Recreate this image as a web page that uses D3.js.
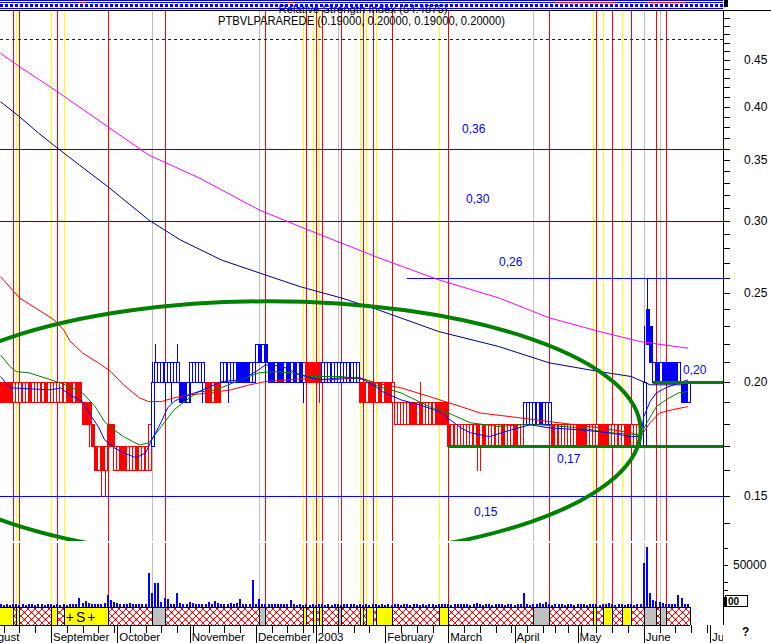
<!DOCTYPE html>
<html>
<head>
<meta charset="utf-8">
<script src="https://cdn.jsdelivr.net/npm/d3@7/dist/d3.min.js"></script>
<style>
  html, body { margin:0; padding:0; background:#ffffff; overflow:hidden; }
  svg { display:block; }
  text { font-family: "Liberation Sans", Arial, sans-serif; }
</style>
</head>
<body>
<svg id="chart" width="771" height="643"></svg>
<script>
// ================= DATA =================
const calendarStart = "2002-08-01";
const calendarEnd   = "2003-07-31";
const holidays = ["2002-12-25","2002-12-26","2002-12-31","2003-01-01","2003-04-18","2003-04-21","2003-05-01"];
const firstBarDate = "2002-08-09";

// daily prices in euro cents (one value per session from firstBarDate)
const openC = [
 20,20,20,20,19,19,19,19,19,20, 19,19,19,19,20,19,19,19,19,19,
 19,20,20,19,20,20,19,19,19,18, 17,16,17,16,18,18,16,16,17,17,
 16,16,16,17,16,16,16,16,17,20, 20,20,20,20,20,20,20,20,20,19,
 20,20,20,20,20,20,20,19,20,20, 20,20,20,20,20,21,21,21,21,20,
 20,21,22,21,22,21,21,20,21,21, 20,21,20,21,20,21,20,21,21,21,
 21,21,20,20,20,20,20,20,20,20, 20,20,20,20,20,20,19,20,20,19,
 20,19,20,20,19,18,18,18,18,18, 19,19,18,19,18,18,18,18,19,19,
 19,19,18,17,17,17,17,17,17,17, 17,18,17,18,17,17,17,17,17,18,
 17,17,17,18,17,17,18,18,18,18, 18,19,18,18,18,18,17,17,17,17,
 17,17,17,18,18,18,17,17,17,17, 18,18,18,17,17,17,17,17,18,18,
 17,17,17,17,17,24,23,20,21,20, 21,21,21,21,21,20,20,20,19];
const highC = [
 20,20,20,20,20,20,20,20,20,20, 20,20,20,20,20,20,20,20,20,20,
 20,20,20,20,20,20,19,19,19,18, 17,17,17,17,18,18,18,17,17,17,
 17,17,17,17,17,17,17,18,21,22, 21,21,21,21,21,21,22,20,20,20,
 21,21,21,21,21,20,20,20,20,20, 21,21,21,21,21,21,21,21,21,21,
 21,22,22,22,22,21,21,21,21,21, 21,21,21,21,21,21,21,21,21,21,
 21,21,21,21,21,21,21,21,21,21, 21,21,21,21,20,20,20,20,20,20,
 20,20,20,20,20,19,19,19,19,19, 19,19,19,20,19,19,19,19,19,19,
 19,19,18,18,18,18,18,18,18,18, 18,18,18,18,18,18,18,18,18,18,
 18,18,18,18,18,18,19,19,19,19, 19,19,19,19,19,18,18,18,18,18,
 18,18,18,18,18,18,18,18,18,18, 18,18,18,18,18,18,18,18,18,18,
 18,18,18,18,23,26,23,21,21,21, 21,21,21,21,21,21,20,20,20];
const lowC = [
 19,19,19,19,19,19,19,19,19,19, 19,19,19,19,19,19,19,19,19,19,
 19,19,19,19,19,19,18,18,17,17, 16,16,15,15,17,17,16,16,16,16,
 16,16,16,16,16,16,16,16,17,20, 20,20,19,20,19,20,20,19,19,19,
 19,20,20,20,19,19,19,19,19,19, 20,20,19,20,20,20,20,20,20,20,
 20,21,21,21,20,20,20,20,20,20, 20,20,20,20,20,20,19,19,20,20,
 20,19,20,20,20,20,20,20,20,20, 20,20,20,20,19,19,19,19,19,19,
 19,19,19,19,19,18,18,18,18,18, 18,18,18,18,18,18,18,18,18,18,
 18,18,17,17,17,17,17,17,17,17, 17,16,16,17,17,17,17,17,17,17,
 17,17,17,17,17,17,18,18,18,18, 18,18,18,18,18,17,17,17,17,17,
 17,17,17,17,17,17,17,17,17,17, 17,17,17,17,17,17,17,17,17,17,
 17,17,17,17,17,22,21,20,20,20, 20,20,20,20,20,20,19,19,19];
const closeC = [
 19,19,19,19,20,20,20,20,20,19, 20,20,20,20,19,20,20,20,20,20,
 20,19,19,20,19,19,18,18,18,17, 16,17,16,17,17,17,17,17,16,16,
 17,17,17,16,17,17,17,18,20,21, 21,21,21,21,21,21,21,19,19,20,
 21,21,21,21,21,19,19,20,19,19, 21,21,21,21,21,20,20,20,20,21,
 21,22,21,22,21,20,20,21,20,20, 21,20,21,20,21,20,21,20,20,20,
 20,20,21,21,21,21,21,21,21,21, 21,21,21,21,19,19,20,19,19,20,
 19,20,19,19,20,19,19,19,19,19, 18,18,19,18,19,19,19,19,18,18,
 18,18,17,18,18,18,18,18,18,18, 18,17,18,17,18,18,18,18,18,17,
 18,18,18,17,18,18,19,19,19,19, 19,18,19,19,19,17,18,18,18,18,
 18,18,18,17,17,17,18,18,18,18, 17,17,17,18,18,18,18,18,17,17,
 18,18,18,18,20,22,21,21,20,21, 20,20,20,20,20,21,19,19,20];
const volume = [
 3000,2500,3500,2000,3000,4000,2500,3000,2000,3500,
 3000,2500,3000,3500,2500,3000,3000,2500,3500,2000,
 3000,2500,4000,3000,3500,11000,4500,7000,5000,4000,
 3500,4000,3000,5000,14000,8000,6000,5000,3500,4000,
 3000,4500,3000,3500,3000,3500,4000,41000,17000,29000,
 28000,6000,11000,9000,4000,3500,17000,5000,3500,4000,
 6000,5000,3500,4000,3000,3500,6000,3500,7000,5000,
 3000,4000,3500,5000,4000,4500,9000,4000,3000,3500,
 32000,4000,9000,4000,3500,3000,3500,3000,4000,3500,
 3000,4000,8000,3000,2500,3000,2500,3000,2000,3000,
 2500,3500,3000,2500,3000,2000,3000,3500,2500,3000,
 4000,3500,3000,2500,3000,2500,3000,2500,3500,3000,
 2500,3000,2000,3000,2500,3000,3500,2500,3000,3000,
 2500,3500,3000,2500,3000,2500,3000,3500,2500,3000,
 3000,3500,3000,2500,3500,3000,3000,3500,4000,2500,
 3000,5000,3000,2500,3500,3000,2500,3000,3500,3000,
 2500,3000,3500,2500,3000,3500,17000,3000,2500,3000,
 3500,5000,4000,6000,3000,2500,3000,4000,3000,2500,
 3500,3000,2500,3000,3500,3000,2500,3000,4000,3000,
 2500,3500,3000,5000,3000,2500,3000,3500,2500,4000,
 3000,2500,3000,3500,52000,72000,17000,8000,7000,6000,
 5000,4000,3500,3000,4000,14000,11000,4000,3000];
// bar-number ranges where the trend state is "up" (blue bars)
const upTrendBars = [[48,64],[70,96],[102,113],[166,174],[203,218]];

// moving averages: [bar number, value]
const maFast = [[0,0.2027],[3,0.1970],[16,0.1960],[19,0.1970],[22,0.1935],[26,0.1903],[28,0.1849],[31,0.1787],[33,0.1728],[36,0.1694],[39,0.1672],[43,0.1652],[46,0.1672],[48,0.1728],[51,0.1809],[53,0.1873],[55,0.1903],[58,0.1927],[63,0.1952],[70,0.2001],[76,0.2010],[81,0.2052],[84,0.2087],[89,0.2082],[95,0.2035],[101,0.2010],[108,0.2020],[114,0.2020],[119,0.1976],[121,0.1952],[127,0.1911],[133,0.1887],[139,0.1856],[146,0.1781],[149,0.1759],[155,0.1742],[162,0.1772],[168,0.1795],[174,0.1781],[184,0.1772],[193,0.1759],[200,0.1742],[203,0.1742],[204,0.1832],[206,0.1903],[208,0.1945],[211,0.1970],[215,0.1994],[218,0.2010]];
const maMid = [[0,0.2140],[3,0.2079],[5,0.2052],[9,0.2046],[16,0.2010],[19,0.1994],[22,0.1976],[26,0.1945],[30,0.1879],[33,0.1809],[36,0.1772],[39,0.1742],[44,0.1706],[47,0.1715],[51,0.1787],[55,0.1864],[60,0.1921],[63,0.1952],[66,0.1952],[70,0.1970],[76,0.2010],[82,0.2046],[87,0.2052],[92,0.2046],[98,0.2027],[108,0.2027],[116,0.2010],[120,0.1976],[127,0.1945],[136,0.1879],[142,0.1849],[149,0.1804],[158,0.1787],[165,0.1795],[171,0.1795],[184,0.1781],[193,0.1759],[203,0.1750],[205,0.1804],[208,0.1879],[211,0.1911],[215,0.1945],[218,0.1952]];
const maSlow = [[0,0.2607],[6,0.2471],[12,0.2398],[17,0.2338],[20,0.2280],[22,0.2217],[26,0.2151],[31,0.2098],[35,0.2052],[39,0.1985],[44,0.1921],[47,0.1903],[51,0.1903],[55,0.1921],[60,0.1935],[66,0.1945],[73,0.1960],[79,0.1985],[84,0.2001],[95,0.2015],[104,0.2010],[114,0.2020],[120,0.1990],[127,0.1970],[136,0.1927],[146,0.1879],[152,0.1849],[165,0.1826],[177,0.1804],[190,0.1781],[200,0.1759],[203,0.1742],[206,0.1804],[209,0.1849],[213,0.1864],[218,0.1879]];
const maLong = [[0,0.4051],[6,0.3901],[12,0.3744],[18,0.3605],[25,0.3454],[34,0.3271],[47,0.3007],[57,0.2860],[70,0.2719],[82,0.2632],[95,0.2542],[108,0.2471],[119,0.2403],[139,0.2270],[158,0.2186],[174,0.2098],[190,0.2052],[200,0.2027],[206,0.1985],[218,0.1985]];
const maVeryLong = [[0,0.4577],[6,0.4425],[18,0.4155],[34,0.3804],[47,0.3542],[63,0.3343],[82,0.3084],[95,0.2957],[108,0.2838],[120,0.2733],[139,0.2586],[158,0.2471],[174,0.2350],[190,0.2270],[203,0.2213],[218,0.2177]];

// signal periods [start date, end date]
const yellowSignals = [["2002-08-06","2002-08-15"],["2002-08-16","2002-08-19"],["2002-09-02","2002-09-04"],["2002-09-06","2002-09-26"],["2002-12-23","2002-12-24"],["2002-12-30","2003-01-02"],["2003-01-03","2003-01-06"],["2003-01-22","2003-01-23"],["2003-01-24","2003-01-28"],["2003-01-29","2003-02-05"],["2003-02-26","2003-03-03"],["2003-05-09","2003-05-12"],["2003-05-14","2003-05-19"],["2003-05-22","2003-05-27"]];
const graySignals = [["2002-10-16","2002-10-22"],["2002-12-03","2002-12-05"],["2003-01-13","2003-01-14"],["2003-04-09","2003-04-16"],["2003-06-02","2003-06-06"],["2003-06-09","2003-06-11"]];
const labelledSignal = "2002-09-06";
const signalLabel = "+S+";

// horizontal levels
const blueLevelValues = [0.36, 0.30, 0.26, 0.15];
const blueLevelLabels = ["0,36", "0,30", "0,26", "0,15"];
const blueLevelFrom = [null, null, "2003-02-12", null];
const dashedLevel = 0.474;
const greenLevelValues = [0.17, 0.20];
const greenLevelLabels = ["0,17", "0,20"];
const greenLevelFrom = ["2003-03-03", "2003-06-05"];
const ellipseSpec = { centerBar: 85, centerPrice: 0.177, rightBar: 203, topPrice: 0.245 };

const priceTickLabels = [0.15, 0.20, 0.25, 0.30, 0.35, 0.40, 0.45];
const volumeTicks = [20000, 30000, 50000, 70000];
const volumeTickLabels = [50000];
const monthLabels = [["2002-08","August"],["2002-09","September"],["2002-10","October"],["2002-11","November"],["2002-12","December"],["2003-01","2003"],["2003-02","February"],["2003-03","March"],["2003-04","April"],["2003-05","May"],["2003-06","June"],["2003-07","Jul"]];
const titleText = "PTBVLPARAREDE (0.19000, 0.20000, 0.19000, 0.20000)";
const rsiText = "Relative Strength Index (54.4875)";

// ================= CHART =================
const svg = d3.select("#chart");
const W = 771, H = 643, AX = 723;
const P_TOP = 10, P_BOT = 541, V_TOP = 543, V_BOT = 607, B_TOP = 607, B_BOT = 625;
const BLUE = "#0000ff", RED = "#ff0000";

const parse = d3.timeParse("%Y-%m-%d");
const fmt = d3.timeFormat("%Y-%m-%d");
const hol = new Set(holidays);
const sessions = [];
for (let d = parse(calendarStart); d <= parse(calendarEnd); d = d3.timeDay.offset(d, 1)) {
  const wd = d.getDay();
  if (wd === 0 || wd === 6 || hol.has(fmt(d))) continue;
  sessions.push(d);
}
const sIndex = new Map(sessions.map((d, i) => [fmt(d), i]));
const s0 = sIndex.get(firstBarDate);

const x = d3.scaleLinear()
  .domain([sIndex.get("2002-09-02"), sIndex.get("2003-07-01")])
  .range([51, 710]);
const xb = i => x(s0 + i);
const xd = s => x(sIndex.get(s));
const y = d3.scaleLog().domain([0.15, 0.45]).range([496, 60]);
const yv = d3.scaleLinear().domain([0, 50000]).range([V_BOT, 565]);

const bars = openC.map((o, i) => ({
  i, o: o / 100, h: highC[i] / 100, l: lowC[i] / 100, c: closeC[i] / 100, v: volume[i],
  up: upTrendBars.some(([a, b]) => i >= a && i <= b)
}));

svg.append("rect").attr("width", W).attr("height", H).attr("fill", "#fff");

const defs = svg.append("defs");
defs.append("clipPath").attr("id", "clipP").append("rect")
  .attr("x", 0).attr("y", P_TOP + 1).attr("width", AX).attr("height", P_BOT - P_TOP - 1);
defs.append("clipPath").attr("id", "clipV").append("rect")
  .attr("x", 0).attr("y", V_TOP).attr("width", AX).attr("height", V_BOT - V_TOP);
defs.append("clipPath").attr("id", "clipX").append("rect")
  .attr("x", 0).attr("y", 0).attr("width", AX).attr("height", H);
const pat = defs.append("pattern").attr("id", "hatch").attr("patternUnits", "userSpaceOnUse")
  .attr("width", 7).attr("height", 7);
pat.append("rect").attr("width", 7).attr("height", 7).attr("fill", "#fff");
pat.append("path").attr("d", "M0,0L7,7M7,0L0,7").attr("stroke", RED).attr("stroke-width", 1);
pat.append("rect").attr("x", 2.5).attr("y", 2.5).attr("width", 2).attr("height", 2).attr("fill", RED);

// ---- vertical signal lines ----
const vLines = [];
yellowSignals.forEach(([a, b]) => { vLines.push([a, "#ffff00"]); vLines.push([b, RED]); });
graySignals.forEach(([a, b]) => { vLines.push([a, "#c0c0c0"]); vLines.push([b, RED]); });
const gVL = svg.append("g").attr("clip-path", "url(#clipX)").attr("shape-rendering", "crispEdges");
vLines.forEach(([d, col]) => {
  const xx = Math.round(xd(d)) + 0.5;
  gVL.append("line").attr("x1", xx).attr("x2", xx).attr("y1", P_TOP + 1).attr("y2", P_BOT).attr("stroke", col);
  gVL.append("line").attr("x1", xx).attr("x2", xx).attr("y1", V_TOP).attr("y2", V_BOT).attr("stroke", col);
});

// ---- horizontal levels ----
const gP = svg.append("g").attr("clip-path", "url(#clipP)");
blueLevelValues.forEach((v, k) => {
  const yy = Math.round(y(v)) + 0.5;
  const x0 = blueLevelFrom[k] ? Math.round(xd(blueLevelFrom[k])) : 0;
  gP.append("line").attr("x1", x0).attr("x2", AX).attr("y1", yy).attr("y2", yy)
    .attr("stroke", BLUE).attr("stroke-width", 1).attr("shape-rendering", "crispEdges");
});
gP.append("line").attr("x1", 0).attr("x2", AX)
  .attr("y1", Math.round(y(dashedLevel)) + 0.5).attr("y2", Math.round(y(dashedLevel)) + 0.5)
  .attr("stroke", BLUE).attr("stroke-dasharray", "3,3").attr("shape-rendering", "crispEdges");

// ---- volume ----
const gV = svg.append("g").attr("clip-path", "url(#clipV)").attr("shape-rendering", "crispEdges");
gV.selectAll("rect").data(bars).join("rect")
  .attr("x", d => Math.round(xb(d.i)) - 1)
  .attr("width", 2)
  .attr("y", d => Math.round(yv(d.v)))
  .attr("height", d => V_BOT - Math.round(yv(d.v)))
  .attr("fill", BLUE);

// ---- candles ----
const gC = gP.append("g").attr("shape-rendering", "crispEdges");
const cand = gC.selectAll("g").data(bars).join("g");
cand.append("line")
  .attr("x1", d => Math.round(xb(d.i)) + 0.5).attr("x2", d => Math.round(xb(d.i)) + 0.5)
  .attr("y1", d => Math.round(y(d.h))).attr("y2", d => Math.round(y(d.l)) + 1)
  .attr("stroke", d => d.up ? BLUE : RED);
cand.append("rect")
  .attr("x", d => Math.round(xb(d.i)) - 0.5)
  .attr("y", d => Math.round(y(Math.max(d.o, d.c))) + 0.5)
  .attr("width", 3)
  .attr("height", d => Math.max(0, Math.round(y(Math.min(d.o, d.c))) - Math.round(y(Math.max(d.o, d.c)))))
  .attr("fill", d => d.c < d.o ? (d.up ? BLUE : RED) : "#fff")
  .attr("stroke", d => d.up ? BLUE : RED);

// ---- moving averages ----
const line = d3.line().x(d => xb(d[0])).y(d => y(d[1]));
[[maVeryLong, "#ff00ff"], [maLong, "#000080"], [maSlow, RED], [maMid, "#008000"], [maFast, BLUE]]
  .forEach(([data, col]) => {
    gP.append("path").attr("d", line(data)).attr("fill", "none").attr("stroke", col).attr("stroke-width", 1);
  });

// ---- green levels & ellipse ----
greenLevelValues.forEach((v, k) => {
  const yy = Math.round(y(v)) + 0.5;
  gP.append("line").attr("x1", Math.round(xd(greenLevelFrom[k]))).attr("x2", AX).attr("y1", yy).attr("y2", yy)
    .attr("stroke", "#008000").attr("stroke-width", 3);
});
const ecx = xb(ellipseSpec.centerBar), ecy = y(ellipseSpec.centerPrice);
gP.append("ellipse").attr("cx", ecx).attr("cy", ecy)
  .attr("rx", xb(ellipseSpec.rightBar) - ecx).attr("ry", ecy - y(ellipseSpec.topPrice))
  .attr("fill", "none").attr("stroke", "#008000").attr("stroke-width", 4);

// ---- level labels ----
const blueLabelPos = [[462, -20], [466, -22], [499, -16], [474, 16]];
blueLevelValues.forEach((v, k) => {
  svg.append("text").attr("x", blueLabelPos[k][0]).attr("y", y(v) + blueLabelPos[k][1])
    .attr("dy", "0.35em").attr("font-size", 12).attr("fill", BLUE).text(blueLevelLabels[k]);
});
const greenLabelPos = [[557, 12], [683, -12]];
greenLevelValues.forEach((v, k) => {
  svg.append("text").attr("x", greenLabelPos[k][0]).attr("y", y(v) + greenLabelPos[k][1])
    .attr("dy", "0.35em").attr("font-size", 12).attr("fill", BLUE).text(greenLevelLabels[k]);
});

// ---- titles and top strip ----
svg.append("text").attr("x", 363).attr("y", 13).attr("text-anchor", "middle").attr("font-size", 11.5)
  .attr("textLength", 169).attr("lengthAdjust", "spacingAndGlyphs").text(rsiText);
svg.append("text").attr("x", 218).attr("y", 25).attr("font-size", 12)
  .attr("textLength", 287).attr("lengthAdjust", "spacingAndGlyphs").text(titleText);

const gS = svg.append("g").attr("shape-rendering", "crispEdges");
gS.append("line").attr("x1", 0).attr("x2", AX).attr("y1", 0.5).attr("y2", 0.5).attr("stroke", BLUE);
gS.append("line").attr("x1", 0).attr("x2", AX).attr("y1", 2.5).attr("y2", 2.5).attr("stroke", BLUE);
gS.selectAll("rect.sq").data(d3.range(0, AX - 2, 5)).join("rect").attr("class", "sq")
  .attr("x", d => d).attr("y", 4).attr("width", 3).attr("height", 3).attr("fill", BLUE);
gS.append("line").attr("x1", 0).attr("x2", AX).attr("y1", 8.5).attr("y2", 8.5).attr("stroke", BLUE);
gS.append("line").attr("x1", 0).attr("x2", W).attr("y1", 10.5).attr("y2", 10.5).attr("stroke", "#000");
[["2002-09-13","2002-09-17"],["2002-12-16","2002-12-18"],["2003-04-22","2003-05-20"],["2003-06-03","2003-06-19"]].forEach(([a, b]) => {
  gS.append("line").attr("x1", xd(a)).attr("x2", xd(b)).attr("y1", 2.5).attr("y2", 2.5).attr("stroke", RED);
});
gS.append("rect").attr("x", AX + 1).attr("y", 0).attr("width", 4).attr("height", 7).attr("fill", "#000");

// ---- signal band ----
const xEnd = Math.round(xb(bars.length - 1)) + 2;
const gB = svg.append("g").attr("shape-rendering", "crispEdges");
gB.append("rect").attr("x", 0).attr("y", B_TOP).attr("width", xEnd).attr("height", B_BOT - B_TOP).attr("fill", "url(#hatch)");
const seg = (arr, col) => arr.forEach(([a, b]) => {
  const x0 = Math.max(0, Math.round(xd(a))), x1 = Math.round(xd(b));
  gB.append("rect").attr("x", x0).attr("y", B_TOP).attr("width", Math.max(0, x1 - x0)).attr("height", B_BOT - B_TOP).attr("fill", col);
  [x0, x1].forEach(xx => { if (xx > 0) gB.append("line").attr("x1", xx + 0.5).attr("x2", xx + 0.5).attr("y1", B_TOP).attr("y2", B_BOT).attr("stroke", "#000"); });
});
seg(yellowSignals, "#ffff00");
seg(graySignals, "#c0c0c0");
gB.append("line").attr("x1", 0).attr("x2", xEnd).attr("y1", B_TOP + 0.5).attr("y2", B_TOP + 0.5).attr("stroke", "#000");
gB.append("line").attr("x1", 0).attr("x2", xEnd).attr("y1", B_BOT + 0.5).attr("y2", B_BOT + 0.5).attr("stroke", "#000");
gB.append("line").attr("x1", xEnd + 0.5).attr("x2", xEnd + 0.5).attr("y1", B_TOP).attr("y2", B_BOT).attr("stroke", "#000");
const ls = yellowSignals.find(s => s[0] === labelledSignal);
svg.append("text").attr("x", (xd(ls[0]) + xd(ls[1])) / 2 - 4).attr("y", 622).attr("text-anchor", "middle")
  .attr("font-size", 14).attr("letter-spacing", 2).text(signalLabel);

// ---- bottom axis ----
const gX = svg.append("g").attr("clip-path", "url(#clipX)").attr("shape-rendering", "crispEdges");
sessions.forEach((d, i) => {
  const xi = Math.round(x(i)) + 0.5;
  if (xi < 0 || xi > AX) return;
  const prev = sessions[i - 1];
  const newMonth = !prev || prev.getMonth() !== d.getMonth();
  const newWeek = !prev || +d3.timeMonday.floor(prev) !== +d3.timeMonday.floor(d);
  if (newMonth) gX.append("line").attr("x1", xi).attr("x2", xi).attr("y1", B_BOT).attr("y2", 643).attr("stroke", "#000");
  else if (newWeek) gX.append("line").attr("x1", xi).attr("x2", xi).attr("y1", B_BOT).attr("y2", 633).attr("stroke", "#000");
});
monthLabels.forEach(([m, lab]) => {
  const first = sessions.findIndex(d => fmt(d).slice(0, 7) === m);
  gX.append("text").attr("x", x(first) + 2).attr("y", 641).attr("font-size", 11.5).text(lab);
});

// ---- right axis ----
const gY = svg.append("g").attr("shape-rendering", "crispEdges");
gY.append("line").attr("x1", AX + 0.5).attr("x2", AX + 0.5).attr("y1", P_TOP).attr("y2", B_BOT).attr("stroke", "#000");
d3.range(14, 52).map(c => c / 100).forEach(v => {
  const yy = Math.round(y(v)) + 0.5;
  if (yy < P_TOP + 2 || yy > P_BOT) return;
  gY.append("line").attr("x1", AX).attr("x2", AX + 7).attr("y1", yy).attr("y2", yy).attr("stroke", "#000");
});
priceTickLabels.forEach(v => {
  svg.append("text").attr("x", 744).attr("y", y(v)).attr("dy", "0.35em").attr("font-size", 12).text(v.toFixed(2));
});
volumeTicks.forEach(v => {
  const yy = Math.round(yv(v)) + 0.5;
  gY.append("line").attr("x1", AX).attr("x2", AX + 5).attr("y1", yy).attr("y2", yy).attr("stroke", "#000");
});
volumeTickLabels.forEach(v => {
  svg.append("text").attr("x", 733).attr("y", yv(v)).attr("dy", "0.35em").attr("font-size", 12).text(v);
});
gY.append("rect").attr("x", 725.5).attr("y", 595.5).attr("width", 22).attr("height", 11).attr("fill", "#fff").attr("stroke", "#000");
gY.append("rect").attr("x", 724).attr("y", 597).attr("width", 3).attr("height", 10).attr("fill", "#000");
svg.append("text").attr("x", 728).attr("y", 605).attr("font-size", 10).attr("font-weight", "bold").text("00");
svg.append("text").attr("x", 742).attr("y", 636).attr("font-size", 12).attr("font-weight", "bold").text("?");
</script>
</body>
</html>
